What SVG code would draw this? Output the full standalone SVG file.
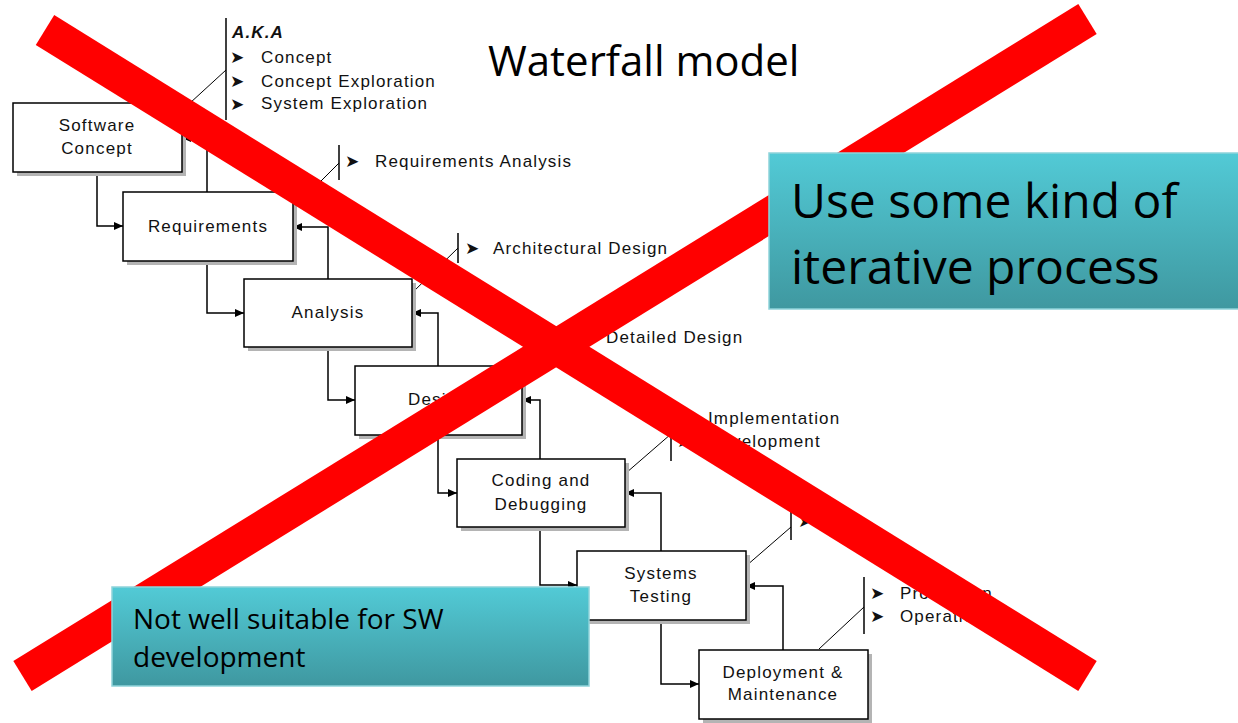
<svg xmlns="http://www.w3.org/2000/svg" width="1238" height="723" viewBox="0 0 1238 723">
<defs>
<marker id="ah" markerUnits="userSpaceOnUse" markerWidth="9" markerHeight="8" refX="9" refY="4" orient="auto">
<path d="M0,0 L9,4 L0,8 z" fill="#000"/>
</marker>
<linearGradient id="teal" x1="0" y1="0" x2="0" y2="1">
<stop offset="0" stop-color="#52cad6"/>
<stop offset="1" stop-color="#3f98a0"/>
</linearGradient>
</defs>
<style>
.sh{fill:#b4b4b4}
.bx{fill:#fff;stroke:#000;stroke-width:1.5}
.lb{font-family:"Liberation Sans",Arial,sans-serif;font-size:17px;letter-spacing:1.2px;fill:#111;text-anchor:middle}
.an{font-family:"Liberation Sans",Arial,sans-serif;font-size:17px;letter-spacing:1.15px;fill:#111}
.bu{font-family:"DejaVu Sans",sans-serif;font-size:17px;fill:#111}
.cn{fill:none;stroke:#000;stroke-width:1.5}
.br{fill:none;stroke:#000;stroke-width:1.5}
.dg{fill:none;stroke:#000;stroke-width:1}
.red{stroke:#ff0000;stroke-width:35;stroke-linecap:butt}
.tb{fill:url(#teal);stroke:#8fd3da;stroke-width:1.5}
.tt{font-family:"Open Sans","Liberation Sans",sans-serif;fill:#000}
</style>
<rect width="1238" height="723" fill="#fff"/>

<text x="488" y="76" class="tt" font-size="42">Waterfall model</text>

<g id="annotations">
<line class="br" x1="226" y1="18" x2="226" y2="120"/>
<line class="dg" x1="190" y1="103" x2="226" y2="70"/>
<text x="232" y="38" class="an" font-weight="bold" font-style="italic">A.K.A</text>
<text x="230" y="63" class="bu">➤</text>
<text x="230" y="87" class="bu">➤</text>
<text x="230" y="110" class="bu">➤</text>
<text x="261" y="63" class="an">Concept</text>
<text x="261" y="87" class="an">Concept Exploration</text>
<text x="261" y="109" class="an">System Exploration</text>

<line class="br" x1="339" y1="145" x2="339" y2="180"/>
<line class="dg" x1="310" y1="192" x2="339" y2="163"/>
<text x="345" y="167" class="bu">➤</text>
<text x="375" y="167" class="an">Requirements Analysis</text>

<line class="br" x1="458" y1="233" x2="458" y2="263"/>
<line class="dg" x1="412" y1="293" x2="458" y2="248"/>
<text x="465" y="254" class="bu">➤</text>
<text x="493" y="254" class="an">Architectural Design</text>

<line class="br" x1="578" y1="320" x2="578" y2="352"/>
<line class="dg" x1="522" y1="382" x2="578" y2="338"/>
<text x="584" y="343" class="bu">➤</text>
<text x="606" y="343" class="an">Detailed Design</text>

<line class="br" x1="671" y1="410" x2="671" y2="461"/>
<line class="dg" x1="626" y1="473" x2="671" y2="434"/>
<text x="677" y="424" class="bu">➤</text>
<text x="677" y="447" class="bu">➤</text>
<text x="708" y="424" class="an">Implementation</text>
<text x="708" y="447" class="an">Development</text>

<line class="br" x1="791" y1="497" x2="791" y2="540"/>
<line class="dg" x1="746" y1="566" x2="791" y2="527"/>
<text x="798" y="503" class="bu">➤</text>
<text x="798" y="527" class="bu">➤</text>

<line class="br" x1="864" y1="577" x2="864" y2="634"/>
<line class="dg" x1="819" y1="649" x2="864" y2="607"/>
<text x="870" y="599" class="bu">➤</text>
<text x="870" y="622" class="bu">➤</text>
<text x="900" y="599" class="an">Production</text>
<text x="900" y="622" class="an">Operations</text>
</g>

<g id="connectors">
<path class="cn" d="M97,172 V226 H123" marker-end="url(#ah)"/>
<path class="cn" d="M207,261 V313 H244" marker-end="url(#ah)"/>
<path class="cn" d="M328,347 V400 H355" marker-end="url(#ah)"/>
<path class="cn" d="M438,435 V493 H457" marker-end="url(#ah)"/>
<path class="cn" d="M540,527 V585 H577" marker-end="url(#ah)"/>
<path class="cn" d="M661,620 V684 H699" marker-end="url(#ah)"/>
<path class="cn" d="M207,192 V138 H182" marker-end="url(#ah)"/>
<path class="cn" d="M328,279 V227 H293" marker-end="url(#ah)"/>
<path class="cn" d="M438,366 V313 H412" marker-end="url(#ah)"/>
<path class="cn" d="M540,459 V400 H522" marker-end="url(#ah)"/>
<path class="cn" d="M661,551 V493 H625" marker-end="url(#ah)"/>
<path class="cn" d="M783,650 V586 H746" marker-end="url(#ah)"/>
</g>

<g id="software-concept">
<rect class="sh" x="17" y="107" width="169" height="69"/>
<rect class="bx" x="13" y="103" width="169" height="69"/>
<text x="97" y="131" class="lb">Software</text>
<text x="97" y="154" class="lb">Concept</text>
</g>
<g id="requirements">
<rect class="sh" x="127" y="196" width="170" height="69"/>
<rect class="bx" x="123" y="192" width="170" height="69"/>
<text x="208" y="232" class="lb">Requirements</text>
</g>
<g id="analysis">
<rect class="sh" x="248" y="283" width="168" height="68"/>
<rect class="bx" x="244" y="279" width="168" height="68"/>
<text x="328" y="318" class="lb">Analysis</text>
</g>
<g id="design">
<rect class="sh" x="359" y="370" width="167" height="69"/>
<rect class="bx" x="355" y="366" width="167" height="69"/>
<text x="438" y="405" class="lb">Design</text>
</g>
<g id="coding">
<rect class="sh" x="461" y="463" width="168" height="68"/>
<rect class="bx" x="457" y="459" width="168" height="68"/>
<text x="541" y="486" class="lb">Coding and</text>
<text x="541" y="510" class="lb">Debugging</text>
</g>
<g id="systems-testing">
<rect class="sh" x="581" y="555" width="169" height="69"/>
<rect class="bx" x="577" y="551" width="169" height="69"/>
<text x="661" y="579" class="lb">Systems</text>
<text x="661" y="602" class="lb">Testing</text>
</g>
<g id="deployment">
<rect class="sh" x="703" y="654" width="169" height="69"/>
<rect class="bx" x="699" y="650" width="169" height="69"/>
<text x="783" y="678" class="lb">Deployment &amp;</text>
<text x="783" y="700" class="lb">Maintenance</text>
</g>

<g id="cross">
<line class="red" x1="45" y1="30" x2="1087.5" y2="676"/>
<line class="red" x1="22.5" y1="676" x2="1087.5" y2="19"/>
</g>

<g id="note-iterative">
<rect class="tb" x="769" y="153" width="475" height="156"/>
<text x="791" y="218" class="tt" font-size="48">Use some kind of</text>
<text x="791" y="284" class="tt" font-size="48">iterative process</text>
</g>
<g id="note-unsuitable">
<rect class="tb" x="112" y="587" width="477" height="99"/>
<text x="133" y="629" class="tt" font-size="28">Not well suitable for SW</text>
<text x="133" y="667" class="tt" font-size="28">development</text>
</g>
</svg>
